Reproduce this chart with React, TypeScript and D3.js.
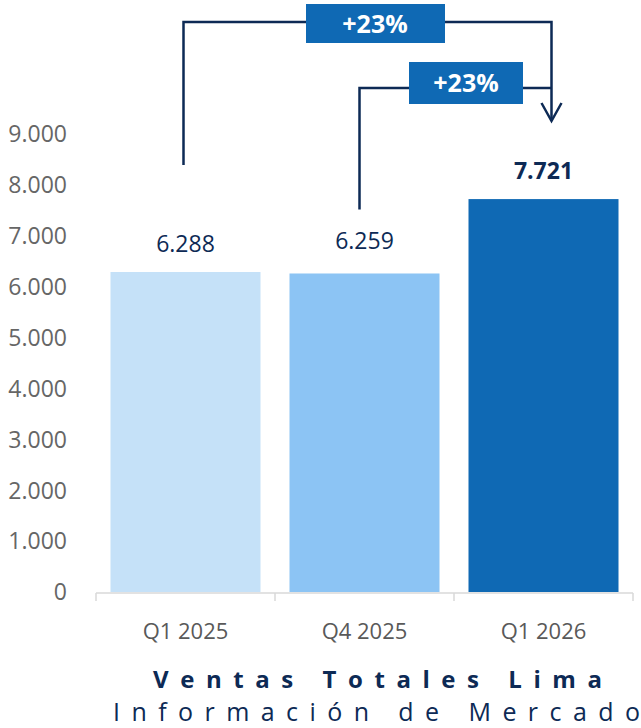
import React from "react";
import * as d3 from "d3";

const categories = ["Q1 2025", "Q4 2025", "Q1 2026"];
const values = [6288, 6259, 7721];
const valueLabels = ["6.288", "6.259", "7.721"];
const yTicks = [0, 1000, 2000, 3000, 4000, 5000, 6000, 7000, 8000, 9000];
const barColors = ["#c5e1f8", "#8cc4f4", "#0f69b4"];
const changeLabels = ["+23%", "+23%"];

const W = 641;
const H = 728;
const FONT = "'Open Sans', sans-serif";
const NAVY = "#0d2a55";

export default function App() {
  const x = d3.scaleBand<string>().domain(categories).range([96, 633]).paddingInner(0.162).paddingOuter(0.081);
  const y = d3.scaleLinear().domain([0, 9000]).range([592, 134]);
  const fmt = (v: number) => d3.format(",")(v).replace(/,/g, ".");
  const cx = (c: string) => (x(c) as number) + x.bandwidth() / 2;

  const c0 = cx(categories[0]) - 2;
  const c1 = cx(categories[1]) - 5;
  const c2 = cx(categories[2]) + 8;
  const top1 = 22;
  const top2 = 88;

  return (
    <svg width={W} height={H} style={{ position: "absolute", left: 0, top: 0, background: "#fff" }} fontFamily={FONT}>
      {/* y tick labels */}
      {yTicks.map((t) => (
        <text key={t} x={67} y={y(t)} dy="0.36em" textAnchor="end" fontSize={23} fill="#666666">
          {fmt(t)}
        </text>
      ))}
      {/* bars */}
      {categories.map((c, i) => (
        <rect key={c} x={x(c)} y={y(values[i])} width={x.bandwidth()} height={y(0) - y(values[i])} fill={barColors[i]} />
      ))}
      {/* x axis */}
      <line x1={96} x2={633} y1={593} y2={593} stroke="#d9d9d9" strokeWidth={1.5} />
      {[...categories.map((c) => x(c)! - x.step() * x.paddingInner() / 2), 633].map((px, i) => (
        <line key={i} x1={i === 0 ? 96 : px} x2={i === 0 ? 96 : px} y1={593} y2={601} stroke="#d9d9d9" strokeWidth={1.5} />
      ))}
      {categories.map((c) => (
        <text key={c} x={cx(c)} y={639} textAnchor="middle" fontSize={22} fill="#595959">
          {c}
        </text>
      ))}
      {/* value labels */}
      {categories.map((c, i) => (
        <text key={c} x={cx(c)} y={y(values[i]) - (i === 1 ? 24 : 20)} textAnchor="middle" fontSize={23}
          fontWeight={i === 2 ? 700 : 400} fill={NAVY}>
          {valueLabels[i]}
        </text>
      ))}
      {/* annotations */}
      <g fill="none" stroke={NAVY} strokeWidth={2.5}>
        <path d={`M${c0},165 V${top1} H${c2} V121`} />
        <path d={`M${c1},${y(values[1]) - 64} V${top2} H${c2}`} />
        <path d={`M${c2 - 10},103 L${c2},121 L${c2 + 10},103`} />
      </g>
      <rect x={306} y={4} width={139} height={39} fill="#0f69b4" />
      <text x={375} y={24} dy="0.36em" textAnchor="middle" fontSize={25} fontWeight={700} fill="#fff">{changeLabels[0]}</text>
      <rect x={409} y={62} width={114} height={42} fill="#0f69b4" />
      <text x={466} y={83} dy="0.36em" textAnchor="middle" fontSize={25} fontWeight={700} fill="#fff">{changeLabels[1]}</text>
      {/* titles */}
      <text x={153} y={688} textLength={449} lengthAdjust="spacing" fontSize={24} fontWeight={700} fill={NAVY}>
        Ventas Totales Lima
      </text>
      <text x={113} y={721} textLength={527} lengthAdjust="spacing" fontSize={25} fill={NAVY}>
        Información de Mercado
      </text>
    </svg>
  );
}
